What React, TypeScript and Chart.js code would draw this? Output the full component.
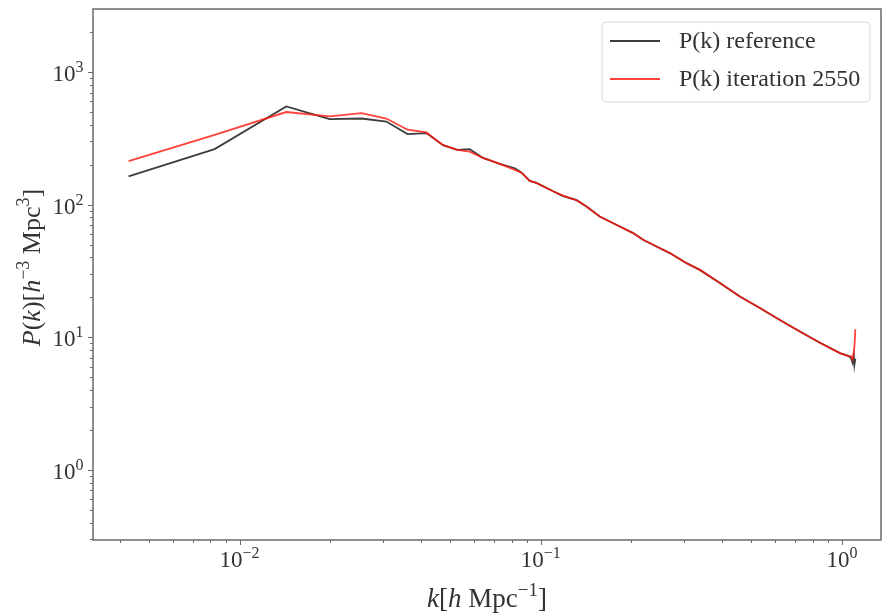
import React, { useEffect, useRef } from "react";
import { Chart, registerables } from "chart.js";

Chart.register(...registerables);

// ---- data ----
const kValues = [
  0.00428, 0.00826, 0.01429, 0.0199, 0.0254, 0.0307, 0.0361, 0.0417, 0.0474, 0.0528,
  0.0581, 0.0643, 0.0731, 0.082, 0.0863, 0.0919, 0.0967, 0.1099, 0.1186, 0.1314,
  0.1418, 0.157, 0.183, 0.2026, 0.2187, 0.2423, 0.2683, 0.3048, 0.3375, 0.3933,
  0.4583, 0.534, 0.6223, 0.725, 0.845, 0.985, 1.047, 1.07, 1.085, 1.095, 1.1, 1.108,
];
const pReference = [
  163, 262, 550, 441, 446, 423, 340, 346, 281, 259,
  262, 225, 203, 188, 174, 151, 146, 126, 116, 108,
  96.8, 81.3, 68.4, 61.0, 54.3, 48.3, 43.1, 36.2, 32.2, 25.6,
  20.3, 16.6, 13.5, 11.04, 9.08, 7.59, 7.24, 7.0, 6.4, 7.3, 6.2, 6.9,
];
const pIteration = [
  213, 336, 499, 462, 490, 446, 367, 350, 281, 259,
  251, 225, 203, 183, 174, 151, 146, 126, 117, 108,
  96.8, 81.3, 68.4, 61.0, 54.3, 48.3, 43.1, 36.2, 32.2, 25.6,
  20.3, 16.6, 13.5, 11.04, 9.08, 7.59, 7.24, 7.2, 6.8, 7.8, 8.5, 11.5,
];
const seriesLabels = ["P(k) reference", "P(k) iteration 2550"];
const seriesColors = ["rgba(0,0,0,0.76)", "rgba(255,25,15,0.82)"];

const xRange = [0.00326, 1.348];
const yRange = [0.296, 2985];
const xMajorTicks = [0.01, 0.1, 1];
const xTickExponents = ["−2", "−1", "0"];
const yMajorTicks = [1, 10, 100, 1000];
const yTickExponents = ["0", "1", "2", "3"];

const SERIF = '"Liberation Serif", "DejaVu Serif", "Times New Roman", serif';
const TEXT = "#333333";
const AXIS = "#6a6a6a";

type Seg = { t: string; italic?: boolean; sup?: boolean };

function logTickValues(min: number, max: number): number[] {
  const out: number[] = [];
  for (let e = Math.floor(Math.log10(min)); e <= Math.ceil(Math.log10(max)); e++) {
    for (let m = 1; m <= 9; m++) {
      const v = m * Math.pow(10, e);
      if (v >= min && v <= max) out.push(v);
    }
  }
  return out;
}

function isMajor(v: number, majors: number[]) {
  return majors.some((m) => Math.abs(v / m - 1) < 1e-6);
}

function measureSegs(ctx: CanvasRenderingContext2D, segs: Seg[], size: number, supSize: number) {
  const fontFor = (s: Seg) => `${s.italic ? "italic " : ""}${s.sup ? supSize : size}px ${SERIF}`;
  const widths = segs.map((s) => {
    ctx.font = fontFor(s);
    return ctx.measureText(s.t).width;
  });
  return { widths, total: widths.reduce((a, b) => a + b, 0), fontFor };
}

function drawSegs(
  ctx: CanvasRenderingContext2D,
  segs: Seg[],
  size: number,
  supSize: number,
  supRaise: number,
  startX: number,
  baselineY: number
) {
  const { widths, fontFor } = measureSegs(ctx, segs, size, supSize);
  let x = startX;
  segs.forEach((s, i) => {
    ctx.font = fontFor(s);
    ctx.fillText(s.t, x, baselineY - (s.sup ? supRaise : 0));
    x += widths[i];
  });
}

const decorPlugin = {
  id: "decor",
  afterDraw(chart: any) {
    const ctx: CanvasRenderingContext2D = chart.ctx;
    const { left, right, top, bottom } = chart.chartArea;
    const xs = chart.scales.x;
    const ys = chart.scales.y;
    ctx.save();

    // frame
    ctx.strokeStyle = AXIS;
    ctx.lineWidth = 1.5;
    ctx.strokeRect(left, top, right - left, bottom - top);

    // tick marks
    ctx.lineWidth = 1;
    ctx.beginPath();
    logTickValues(xRange[0], xRange[1]).forEach((v) => {
      const px = Math.round(xs.getPixelForValue(v)) + 0.5;
      const len = isMajor(v, xMajorTicks) ? 5 : 3;
      ctx.moveTo(px, bottom);
      ctx.lineTo(px, bottom + len);
    });
    logTickValues(yRange[0], yRange[1]).forEach((v) => {
      const py = Math.round(ys.getPixelForValue(v)) + 0.5;
      const len = isMajor(v, yMajorTicks) ? 5 : 3;
      ctx.moveTo(left, py);
      ctx.lineTo(left - len, py);
    });
    ctx.stroke();

    // tick labels
    ctx.fillStyle = TEXT;
    ctx.textAlign = "left";
    ctx.textBaseline = "alphabetic";
    xMajorTicks.forEach((v, i) => {
      const segs: Seg[] = [{ t: "10" }, { t: xTickExponents[i], sup: true }];
      const { total } = measureSegs(ctx, segs, 23, 16);
      const px = xs.getPixelForValue(v);
      drawSegs(ctx, segs, 23, 16, 9, px - total / 2, bottom + 27);
    });
    yMajorTicks.forEach((v, i) => {
      const segs: Seg[] = [{ t: "10" }, { t: yTickExponents[i], sup: true }];
      const { total } = measureSegs(ctx, segs, 23, 16);
      const py = ys.getPixelForValue(v);
      drawSegs(ctx, segs, 23, 16, 9, left - 9.5 - total, py + 9);
    });

    // axis titles
    const xTitle: Seg[] = [
      { t: "k", italic: true },
      { t: "[" },
      { t: "h", italic: true },
      { t: " Mpc" },
      { t: "−1", sup: true },
      { t: "]" },
    ];
    const xm = measureSegs(ctx, xTitle, 27, 19);
    drawSegs(ctx, xTitle, 27, 19, 11, (left + right) / 2 - xm.total / 2, 607);

    const yTitle: Seg[] = [
      { t: "P", italic: true },
      { t: "(" },
      { t: "k", italic: true },
      { t: ")" },
      { t: "[" },
      { t: "h", italic: true },
      { t: "−3", sup: true },
      { t: " Mpc" },
      { t: "3", sup: true },
      { t: "]" },
    ];
    const ym = measureSegs(ctx, yTitle, 26, 18);
    ctx.save();
    ctx.translate(40, (top + bottom) / 2 - 7);
    ctx.rotate(-Math.PI / 2);
    drawSegs(ctx, yTitle, 26, 18, 11, -ym.total / 2, 0);
    ctx.restore();

    // legend
    const boxRight = right - 11;
    const boxLeft = boxRight - 268;
    const boxTop = top + 13;
    const boxH = 80;
    ctx.beginPath();
    const r = 4;
    ctx.moveTo(boxLeft + r, boxTop);
    ctx.arcTo(boxRight, boxTop, boxRight, boxTop + boxH, r);
    ctx.arcTo(boxRight, boxTop + boxH, boxLeft, boxTop + boxH, r);
    ctx.arcTo(boxLeft, boxTop + boxH, boxLeft, boxTop, r);
    ctx.arcTo(boxLeft, boxTop, boxRight, boxTop, r);
    ctx.closePath();
    ctx.fillStyle = "rgba(255,255,255,0.85)";
    ctx.fill();
    ctx.strokeStyle = "#d9d9d9";
    ctx.lineWidth = 1;
    ctx.stroke();

    chart.data.datasets.forEach((ds: any, i: number) => {
      const y = boxTop + 19 + i * 38;
      ctx.strokeStyle = ds.borderColor;
      ctx.lineWidth = 2;
      ctx.beginPath();
      ctx.moveTo(boxLeft + 8, y);
      ctx.lineTo(boxLeft + 58, y);
      ctx.stroke();
      ctx.fillStyle = TEXT;
      ctx.font = `24px ${SERIF}`;
      ctx.textBaseline = "middle";
      ctx.fillText(ds.label, boxLeft + 77, y + 1);
    });

    ctx.restore();
  },
};

export default function App() {
  const canvasRef = useRef<HTMLCanvasElement | null>(null);

  useEffect(() => {
    const canvas = canvasRef.current;
    if (!canvas) return;
    const makePoints = (ps: number[]) => kValues.map((k, i) => ({ x: k, y: ps[i] }));
    const chart = new Chart(canvas, {
      type: "line",
      data: {
        datasets: [
          {
            label: seriesLabels[0],
            data: makePoints(pReference),
            borderColor: seriesColors[0],
            borderWidth: 1.8,
            pointRadius: 0,
            tension: 0,
            order: 1,
          },
          {
            label: seriesLabels[1],
            data: makePoints(pIteration),
            borderColor: seriesColors[1],
            borderWidth: 1.8,
            pointRadius: 0,
            tension: 0,
            order: 0,
          },
        ],
      },
      options: {
        responsive: false,
        animation: false,
        layout: { padding: { top: 9, right: 2, left: 0, bottom: 0 } },
        plugins: {
          legend: { display: false },
          tooltip: { enabled: false },
        },
        scales: {
          x: {
            type: "logarithmic",
            min: xRange[0],
            max: xRange[1],
            grid: { display: false, drawTicks: false },
            border: { display: false },
            ticks: { display: false },
            afterFit: (s: any) => {
              s.height = 74;
            },
          },
          y: {
            type: "logarithmic",
            min: yRange[0],
            max: yRange[1],
            grid: { display: false, drawTicks: false },
            border: { display: false },
            ticks: { display: false },
            afterFit: (s: any) => {
              s.width = 93;
            },
          },
        },
      } as any,
      plugins: [decorPlugin],
    });
    return () => chart.destroy();
  }, []);

  return (
    <div style={{ position: "absolute", left: 0, top: 0, width: 883, height: 614, background: "#fff" }}>
      <canvas ref={canvasRef} width={883} height={614} style={{ display: "block" }} />
    </div>
  );
}
